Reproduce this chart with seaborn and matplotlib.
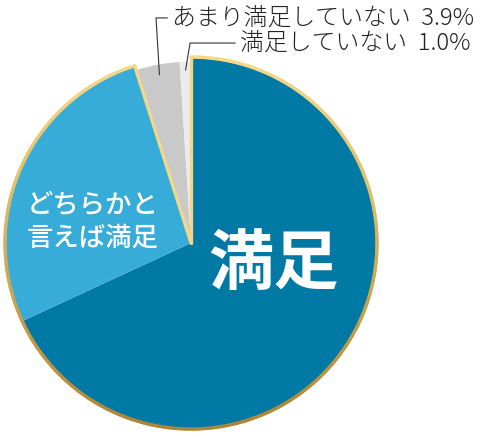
import numpy as np
import matplotlib
matplotlib.use('Agg')
import matplotlib.pyplot as plt
from matplotlib.collections import LineCollection
from matplotlib.colors import LinearSegmentedColormap
import seaborn as sns

# data
labels = ['満足', 'どちらかと\n言えば満足', 'あまり満足していない', '満足していない']
values = [68.1, 27.0, 3.9, 1.0]
colors = ['#0079a5', '#38acd9', '#c9c9c9', '#ebebeb']

sns.set_theme(style='white')
plt.rcParams['font.family'] = ['Noto Sans CJK JP', 'DejaVu Sans']

W, H = 480, 437
cx, cy, R = 191, 243, 186  # pie centre / radius in pixels

fig = plt.figure(figsize=(W / 100, H / 100), dpi=100)
ax = fig.add_axes([0, 0, 1, 1])

wedges, _ = ax.pie(values, colors=colors, startangle=90, counterclock=False,
                   radius=1, wedgeprops=dict(linewidth=0))
# the two small grey slices sit a bit inside the gold rim
for w in wedges[2:]:
    w.set_radius(0.975)

ax.set_xlim(-cx / R, (W - cx) / R)
ax.set_ylim(-(H - cy) / R, cy / R)
ax.set_aspect('auto')
ax.axis('off')

# gold rim around the two coloured slices
t_end = wedges[1].theta1
t_start = wedges[0].theta2
th = np.radians(np.linspace(t_start, t_end, 400))
arc = np.column_stack([np.cos(th), np.sin(th)])
gold = LinearSegmentedColormap.from_list('gold', ['#ad8538', '#c9a24c', '#e2c06a', '#f6da8a'])
segs = np.stack([arc[:-1], arc[1:]], axis=1)
ymid = (segs[:, 0, 1] + segs[:, 1, 1]) / 2
lc = LineCollection(segs, colors=gold((ymid + 1) / 2), linewidth=2.4, capstyle='round', zorder=3)
ax.add_collection(lc)
for t in (t_start, t_end):
    ax.plot([0, np.cos(np.radians(t))], [0, np.sin(np.radians(t))],
            color='#f3d688', lw=2.4, solid_capstyle='round', zorder=3)

# labels inside
ax.text(0.446, -0.118, labels[0], color='white', fontsize=47, fontweight='bold',
        ha='center', va='center', zorder=4)
ax.text(-0.527, 0.113, labels[1], color='white', fontsize=19, fontweight='medium',
        ha='center', va='center', linespacing=1.25, multialignment='left', zorder=4)

# outer labels with leader lines
outer = [
    (wedges[2], f'{labels[2]}  3.9%', 0.92, -0.188, 1.21, -0.102),
    (wedges[3], f'{labels[3]}  1.0%', 0.93, -0.005, 1.075, 0.263),
]
for w, txt, r, ex, ey, tx in outer:
    mid = np.radians((w.theta1 + w.theta2) / 2)
    px, py = r * np.cos(mid), r * np.sin(mid)
    ax.plot([px, ex, tx - 0.025], [py, ey, ey], color='#333333', lw=0.8, zorder=4)
    ax.text(tx, ey, txt, color='#222222', fontsize=17.2, fontweight='light',
            ha='left', va='center', zorder=4)

fig.savefig('out.png', dpi=100, facecolor='white')
